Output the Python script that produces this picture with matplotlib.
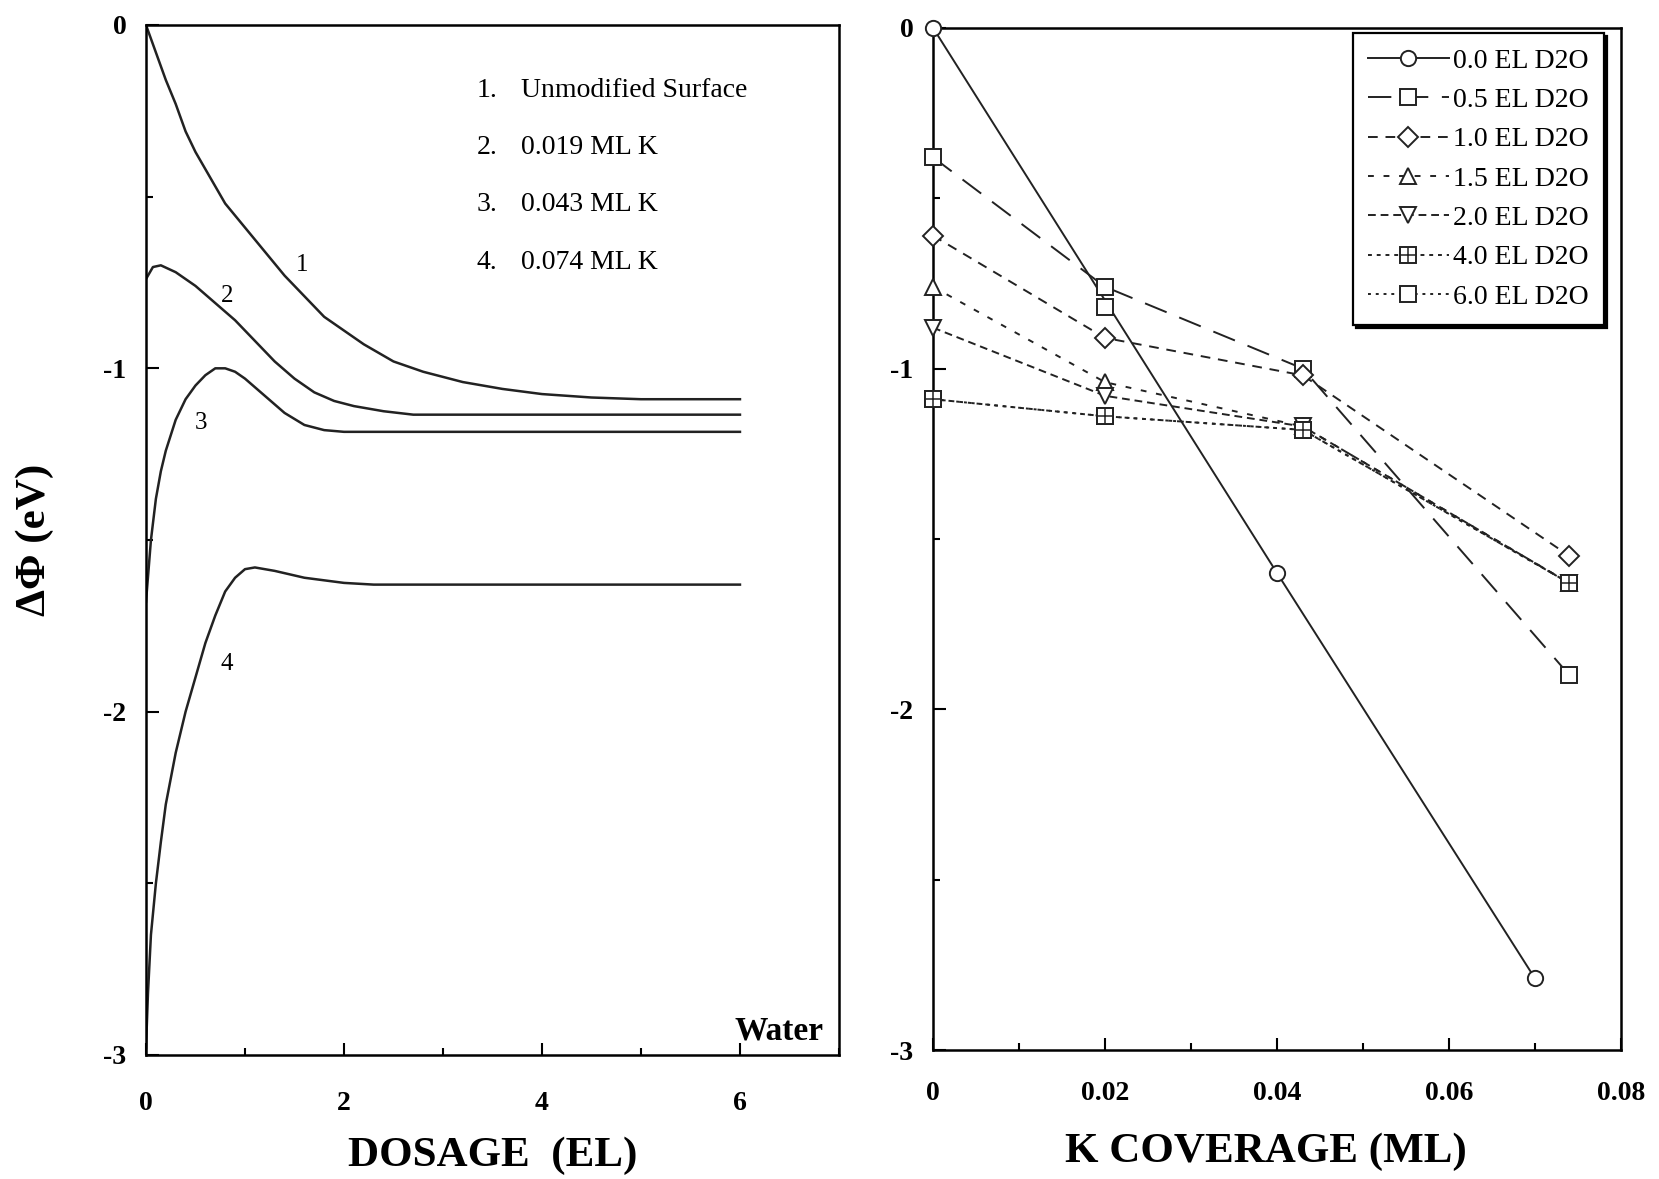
import matplotlib.pyplot as plt
from matplotlib.legend_handler import HandlerTuple
from matplotlib.ticker import MultipleLocator, FixedFormatter, FixedLocator

plt.rcParams['font.family'] = ['Liberation Serif', 'DejaVu Serif']
plt.rcParams['axes.unicode_minus'] = False

# left panel: work function change vs water dosage
dose_1 = [0, 0.1, 0.2, 0.3, 0.4, 0.5, 0.6, 0.7, 0.8, 1.0, 1.2, 1.4, 1.6, 1.8, 2.0, 2.2, 2.5, 2.8, 3.2, 3.6, 4.0, 4.5, 5.0, 6.0]
dphi_1 = [0, -0.08, -0.16, -0.23, -0.31, -0.37, -0.42, -0.47, -0.52, -0.59, -0.66, -0.73, -0.79, -0.85, -0.89,
          -0.93, -0.98, -1.01, -1.04, -1.06, -1.075, -1.085, -1.09, -1.09]
dose_2 = [0, 0.07, 0.15, 0.3, 0.5, 0.7, 0.9, 1.1, 1.3, 1.5, 1.7, 1.9, 2.1, 2.4, 2.7, 6.0]
dphi_2 = [-0.74, -0.705, -0.70, -0.72, -0.76, -0.81, -0.86, -0.92, -0.98, -1.03, -1.07, -1.095, -1.11, -1.125, -1.135, -1.135]
dose_3 = [0, 0.05, 0.1, 0.15, 0.2, 0.3, 0.4, 0.5, 0.6, 0.7, 0.8, 0.9, 1.0, 1.2, 1.4, 1.6, 1.8, 2.0, 6.0]
dphi_3 = [-1.68, -1.5, -1.38, -1.3, -1.24, -1.15, -1.09, -1.05, -1.02, -1.0, -1.0, -1.01, -1.03, -1.08, -1.13,
          -1.165, -1.18, -1.185, -1.185]
dose_4 = [0, 0.02, 0.05, 0.1, 0.15, 0.2, 0.3, 0.4, 0.5, 0.6, 0.7, 0.8, 0.9, 1.0, 1.1, 1.3, 1.6, 2.0, 2.3, 6.0]
dphi_4 = [-2.98, -2.82, -2.65, -2.5, -2.38, -2.27, -2.12, -2.0, -1.9, -1.8, -1.72, -1.65, -1.61, -1.585, -1.58,
          -1.59, -1.61, -1.625, -1.63, -1.63]
curve_tags = ['1', '2', '3', '4']
tag_x = [1.58, 0.82, 0.56, 0.82]
tag_y = [-0.70, -0.79, -1.16, -1.86]
key_nums = ['1.', '2.', '3.', '4.']
key_text = ['Unmodified Surface', '0.019 ML K', '0.043 ML K', '0.074 ML K']

# right panel: work function change vs K coverage for several water exposures
labels = ['0.0 EL D2O', '0.5 EL D2O', '1.0 EL D2O', '1.5 EL D2O', '2.0 EL D2O', '4.0 EL D2O', '6.0 EL D2O']
cov_00 = [0, 0.04, 0.07]
phi_00 = [0, -1.6, -2.79]
cov = [0, 0.02, 0.043, 0.074]
phi_05 = [-0.38, -0.76, -1.0, -1.9]
phi_10 = [-0.61, -0.91, -1.02, -1.55]
phi_15 = [-0.76, -1.04, -1.17, -1.63]
phi_20 = [-0.88, -1.08, -1.17, -1.63]
phi_40 = [-1.09, -1.14, -1.18, -1.63]
phi_60 = [-1.09, -1.14, -1.18, -1.63]
extra_cov = [0.02]
extra_phi = [-0.82]

fig = plt.figure(figsize=(16.59, 11.79), dpi=100)
ax1 = fig.add_axes([0.088, 0.1052, 0.4177, 0.8736])
ax2 = fig.add_axes([0.5624, 0.1094, 0.4147, 0.867])

for xs, ys in [(dose_1, dphi_1), (dose_2, dphi_2), (dose_3, dphi_3), (dose_4, dphi_4)]:
    ax1.plot(xs, ys, color='#222222', lw=1.8)
for t, x, y in zip(curve_tags, tag_x, tag_y):
    ax1.text(x, y, t, fontsize=18, ha='center', va='center')
for i, (n, s) in enumerate(zip(key_nums, key_text)):
    y = -0.19 - 0.167 * i
    ax1.text(3.34, y, n, fontsize=20, va='center')
    ax1.text(3.79, y, s, fontsize=20, va='center')
ax1.text(6.84, -2.93, 'Water', fontsize=24, fontweight='bold', ha='right', va='center')

ax1.set_xlim(0, 7)
ax1.set_ylim(-3, 0)
ax1.xaxis.set_major_locator(FixedLocator([0, 2, 4, 6]))
ax1.xaxis.set_minor_locator(MultipleLocator(1))
ax1.yaxis.set_major_locator(MultipleLocator(1))
ax1.yaxis.set_minor_locator(MultipleLocator(0.5))
ax1.set_xlabel('DOSAGE  (EL)', fontsize=31, fontweight='bold', va='center')
ax1.xaxis.set_label_coords(0.5, -0.098)
ax1.set_ylabel('ΔΦ (eV)', fontsize=31, fontweight='bold', va='center')
ax1.yaxis.set_label_coords(-0.16, 0.5)

mk = dict(markersize=11, markerfacecolor='white', markeredgecolor='#222222', markeredgewidth=1.4,
          color='#222222', clip_on=False, zorder=3)
h0, = ax2.plot(cov_00, phi_00, '-', marker='o', lw=1.4, **mk)
h1, = ax2.plot(cov, phi_05, marker='s', lw=1.4, dashes=(12, 7), **mk)
h2, = ax2.plot(cov, phi_10, marker='D', lw=1.4, dashes=(5, 4), **{**mk, 'markersize': 10})
h3, = ax2.plot(cov, phi_15, marker='^', lw=1.4, dashes=(3, 5), **mk)
h4, = ax2.plot(cov, phi_20, marker='v', lw=1.4, dashes=(4, 2.5), **mk)
h5, = ax2.plot(cov, phi_40, marker='s', lw=1.4, dashes=(2, 2.5), **mk)
h5b, = ax2.plot(cov, phi_40, ls='none', marker='+', markersize=11, markeredgewidth=1.1,
                color='#222222', clip_on=False, zorder=4)
h6, = ax2.plot(cov, phi_60, marker='s', lw=1.4, dashes=(1.5, 2.5), **mk)
ax2.plot(extra_cov, extra_phi, ls='none', marker='s', **mk)

leg = ax2.legend([h0, h1, h2, h3, h4, (h5, h5b), h6], labels,
                 handler_map={tuple: HandlerTuple(ndivide=1, pad=0)},
                 loc='upper right', bbox_to_anchor=(0.975, 0.995), borderaxespad=0, fontsize=20,
                 frameon=True, fancybox=False, edgecolor='black', framealpha=1,
                 shadow={'color': 'black', 'alpha': 1}, handlelength=2.9,
                 handletextpad=0.15, labelspacing=0.5, borderpad=0.55)
leg.get_frame().set_linewidth(1.6)

ax2.set_xlim(0, 0.08)
ax2.set_ylim(-3, 0)
ax2.xaxis.set_major_locator(FixedLocator([0, 0.02, 0.04, 0.06, 0.08]))
ax2.xaxis.set_major_formatter(FixedFormatter(['0', '0.02', '0.04', '0.06', '0.08']))
ax2.xaxis.set_minor_locator(MultipleLocator(0.01))
ax2.yaxis.set_major_locator(MultipleLocator(1))
ax2.yaxis.set_minor_locator(MultipleLocator(0.5))
ax2.set_xlabel('K COVERAGE (ML)', fontsize=31, fontweight='bold', va='center')
ax2.xaxis.set_label_coords(0.484, -0.1)

for ax, xpad in ((ax1, 26), (ax2, 22)):
    for sp in ax.spines.values():
        sp.set_linewidth(1.8)
    ax.tick_params(which='both', direction='in', width=1.5, labelsize=20)
    ax.tick_params(axis='x', pad=xpad)
    ax.tick_params(axis='y', pad=14)
    ax.tick_params(which='major', length=9)
    ax.tick_params(which='minor', length=5)
    for lab in ax.get_xticklabels() + ax.get_yticklabels():
        lab.set_fontweight('bold')

fig.savefig('out.png', dpi=100)
